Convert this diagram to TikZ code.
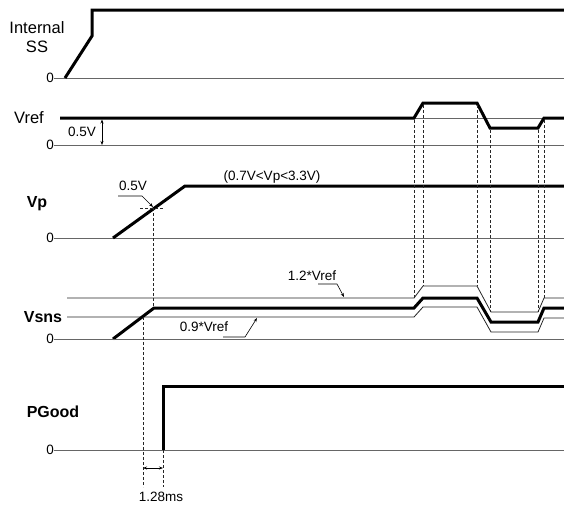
\documentclass[tikz,border=0pt]{standalone}
\usepackage{fontspec}
\setmainfont{Liberation Sans}
\usetikzlibrary{arrows.meta}
\begin{document}
\begin{tikzpicture}[x=1pt,y=-1pt,
  sig/.style={line width=3pt, line join=miter},
  zero/.style={draw=black!60, line width=0.9pt},
  thinln/.style={draw=black!85, line width=0.8pt},
  dsh/.style={draw=black!85, line width=0.7pt, dash pattern=on 3pt off 2pt},
  lbl/.style={font=\fontsize{16.5}{18}\selectfont, inner sep=0pt},
  blbl/.style={font=\fontsize{16}{18}\selectfont\bfseries, inner sep=0pt},
  sm/.style={font=\fontsize{13.5}{15}\selectfont, inner sep=0pt},
  lead/.style={line width=0.6pt, -{Stealth[length=4pt,width=3pt]}},
  dim/.style={line width=0.6pt, {Stealth[length=4pt,width=3pt]}-{Stealth[length=4pt,width=3pt]}}
]
\useasboundingbox (0,0) rectangle (564,506);

% Internal SS
\node[lbl] (ssA) at (37,28) {Internal};
\node[lbl] (ssB) at (37,47) {SS};
\node[sm,anchor=east] (z1) at (54,78) {0};
\draw[zero] (z1.east) -- (564,78);
\draw[sig] (65,78) -- (92,36) -- (92,10) -- (564,10);

% Vref
\node[lbl] (vref) at (29,118) {Vref};
\draw[zero] (414,118) -- (544,118);
\draw[sig] (60,118) -- (414,118) -- (423,103) -- (477,103) -- (490,128) -- (538,128) -- (544,118) -- (564,118);
\node[sm,anchor=east] (z2) at (54,145) {0};
\draw[zero] (z2.east) -- (564,145);
\draw[dim] (102,119.5) -- (102,145);
\node[sm] (v05) at (82,132) {0.5V};

% Vp
\node[blbl] (vp) at (37,204) {Vp};
\node[sm,anchor=east] (z3) at (54,238) {0};
\draw[zero] (z3.east) -- (564,238);
\draw[sig] (113,238) -- (185,186) -- (564,186);
\node[sm] (vprange) at (272,177) {(0.7V<Vp<3.3V)};
\node[sm] (vp05) at (133,186) {0.5V};
\draw[lead] (118,196) -- (142,196) -- (153,207);
\draw[dsh] (140,208) -- (164,208);
\draw[dsh] (153,208) -- (153,308);

% Vsns
\node[blbl] (vsns) at (43,317) {Vsns};
\draw[thinln] (67,298) -- (414,298) -- (423,286) -- (477,286) -- (491,312) -- (538,312) -- (544,298) -- (564,298);
\draw[thinln] (67,317) -- (414,317) -- (423,307) -- (477,307) -- (491,332) -- (538,332) -- (544,318) -- (564,318);
\draw[sig] (113,339) -- (154,308) -- (414,308) -- (423,298) -- (477,298) -- (491,322) -- (538,322) -- (544,308) -- (564,308);
\node[sm,anchor=east] (z4) at (54,339) {0};
\draw[zero] (z4.east) -- (564,339);
\node[sm] (l09) at (204,327) {0.9*Vref};
\draw[lead] (223,337) -- (245,337) -- (257,318);
\node[sm] (l12) at (312,276) {1.2*Vref};
\draw[lead] (318,284) -- (337,284) -- (344,297);

% dashed verticals
\draw[dsh] (414,120) -- (414,298);
\draw[dsh] (423,105) -- (423,286);
\draw[dsh] (477,105) -- (477,286);
\draw[dsh] (490,130) -- (490,312);
\draw[dsh] (538,130) -- (538,312);
\draw[dsh] (544,120) -- (544,298);

% PGood
\node[blbl] (pg) at (53,412) {PGood};
\node[sm,anchor=east] (z5) at (54,450) {0};
\draw[zero] (z5.east) -- (564,450);
\draw[sig] (163,450) -- (163,386) -- (564,386);
\draw[dsh] (143,317) -- (143,487);
\draw[dsh] (163,450) -- (163,487);
\draw[dim] (143,468) -- (163,468);
\node[sm] (t128) at (161,497) {1.28ms};
\end{tikzpicture}
\end{document}
